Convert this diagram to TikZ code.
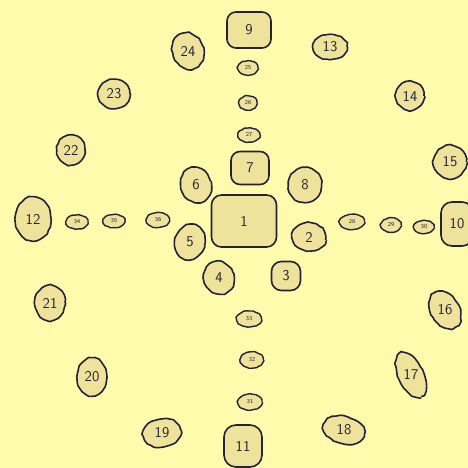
\documentclass[tikz,border=0pt]{standalone}
\usetikzlibrary{shapes.geometric,decorations.pathmorphing}
\definecolor{paper}{RGB}{255,251,172}
\definecolor{stonefill}{RGB}{239,227,155}
\definecolor{ink}{RGB}{34,34,56}
\begin{document}
\begin{tikzpicture}[x=1bp, y=-1bp,
	stone/.style={draw=ink, fill=stonefill, line width=1.6bp, inner sep=0pt, ellipse,
		decoration={random steps, segment length=4bp, amplitude=0.6bp}, decorate,
		font=\fontsize{15}{15}\sffamily, text=ink},
	block/.style={stone, rectangle, rounded corners=7bp, decorate=false},
	pebble/.style={stone, line width=1.4bp, font=\fontsize{6}{6}\sffamily,
		decoration={random steps, segment length=2.5bp, amplitude=0.4bp}},
	sz/.style 2 args={minimum width=#1bp, minimum height=#2bp}]
	\pgfmathsetseed{4}
	\useasboundingbox (0,0) rectangle (468,468);
	\fill[paper] (0,0) rectangle (468,468);
	\clip (0,0) rectangle (468,468);
	% centre group
	\node[block, sz={65}{52}, rounded corners=10bp] (s1) at (244,221) {1};
	\node[block, sz={38}{33}, rounded corners=9bp] (s7) at (250,168) {7};
	\node[stone, sz={30}{35}, rotate=15] (s6) at (196,185) {\rotatebox{-15}{6}};
	\node[stone, sz={33}{35}] (s8) at (305,185) {8};
	\node[stone, sz={30}{35}, rotate=-15] (s5) at (190,242) {\rotatebox{15}{5}};
	\node[stone, sz={34}{28}, rotate=-10] (s2) at (309,237) {\rotatebox{10}{2}};
	\node[stone, sz={30}{33}, rotate=20] (s4) at (219,278) {\rotatebox{-20}{4}};
	\node[block, sz={29}{29}, rounded corners=10bp] (s3) at (286,276) {3};
	% cardinal stones
	\node[block, sz={44}{36}, rounded corners=9bp] (s9) at (249,30) {9};
	\node[block, sz={32}{44}, rounded corners=11bp] (s10) at (457,224) {10};
	\node[block, sz={38}{42}, rounded corners=12bp] (s11) at (243,446) {11};
	\node[stone, sz={36}{44}] (s12) at (33,219) {12};
	% outer ring
	\node[stone, sz={34}{25}] (s13) at (330,47) {13};
	\node[stone, sz={28}{28}] (s14) at (410,96) {14};
	\node[stone, sz={33}{33}] (s15) at (450,162) {15};
	\node[stone, sz={40}{28}, rotate=-60] (s16) at (445,310) {\rotatebox{60}{16}};
	\node[stone, sz={48}{25}, rotate=-65] (s17) at (411,375) {\rotatebox{65}{17}};
	\node[stone, sz={42}{27}, rotate=-15] (s18) at (344,430) {\rotatebox{15}{18}};
	\node[stone, sz={38}{28}, rotate=10] (s19) at (162,433) {\rotatebox{-10}{19}};
	\node[stone, sz={30}{38}] (s20) at (92,377) {20};
	\node[stone, sz={30}{35}] (s21) at (50,303) {21};
	\node[stone, sz={28}{30}] (s22) at (71,150) {22};
	\node[stone, sz={32}{29}] (s23) at (114,94) {23};
	\node[stone, sz={31}{37}, rotate=20] (s24) at (188,51) {\rotatebox{-20}{24}};
	% small stones on the arms
	\node[pebble, sz={20}{14}] (p25) at (248,68) {25};
	\node[pebble, sz={18}{14}] (p26) at (248,103) {26};
	\node[pebble, sz={22}{14}] (p27) at (249,135) {27};
	\node[pebble, sz={25}{15}] (p28) at (352,222) {28};
	\node[pebble, sz={20}{14}] (p29) at (391,225) {29};
	\node[pebble, sz={20}{13}] (p30) at (424,227) {30};
	\node[pebble, sz={24}{16}] (p31) at (250,402) {31};
	\node[pebble, sz={23}{16}] (p32) at (252,360) {32};
	\node[pebble, sz={25}{16}] (p33) at (249,319) {33};
	\node[pebble, sz={22}{14}] (p34) at (77,222) {34};
	\node[pebble, sz={22}{13}] (p35) at (114,221) {35};
	\node[pebble, sz={23}{15}] (p36) at (158,220) {36};
\end{tikzpicture}
\end{document}
